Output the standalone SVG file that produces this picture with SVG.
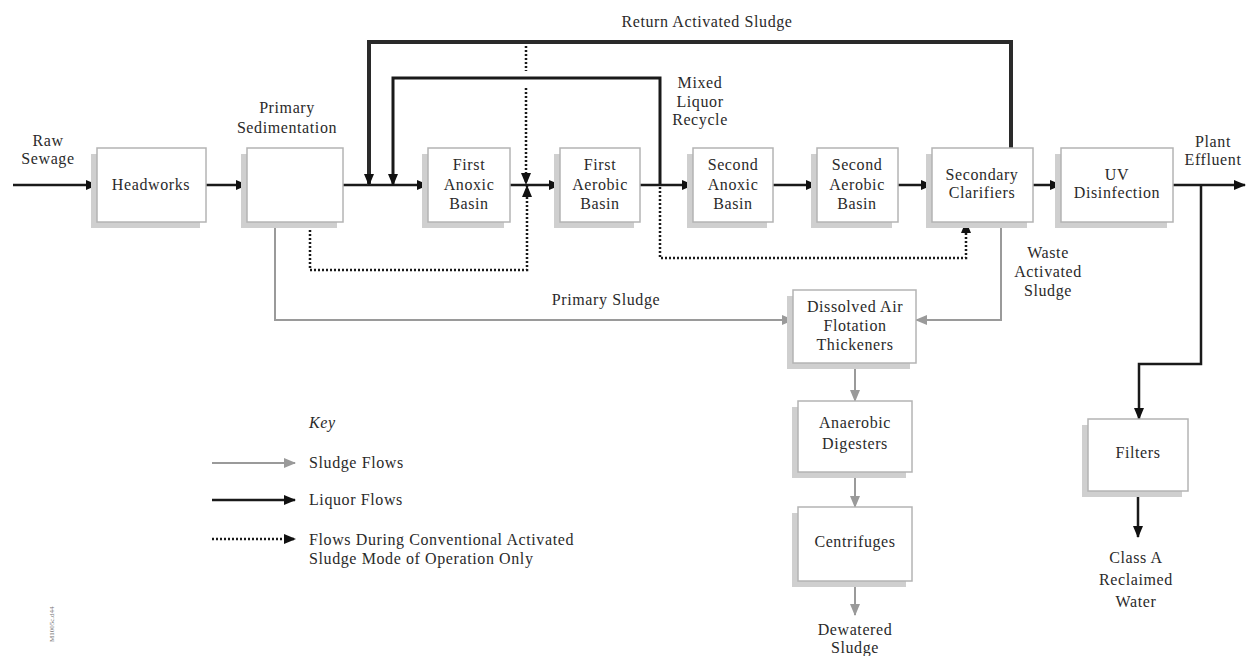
<svg xmlns="http://www.w3.org/2000/svg" width="1247" height="656" viewBox="0 0 1247 656">
<defs>
<style>
.t{font-family:"Liberation Serif","Times New Roman",serif;font-size:16px;fill:#2a2a2a;text-anchor:middle;letter-spacing:0.6px}
.tl{text-anchor:start}
.box{fill:#fff;stroke:#b4b4b4;stroke-width:1.5}
.sh{fill:#cfcfcf}
.liq{fill:none;stroke:#1a1a1a;stroke-width:2.5}
.ras{fill:none;stroke:#2a2a2a;stroke-width:4}
.mlr{fill:none;stroke:#1a1a1a;stroke-width:3}
.dot{fill:none;stroke:#1a1a1a;stroke-width:2.5;stroke-dasharray:2 2}
.sl{fill:none;stroke:#9a9a9a;stroke-width:2}
</style>
<marker id="ab" markerUnits="userSpaceOnUse" markerWidth="12" markerHeight="10" refX="11" refY="5" orient="auto"><path d="M0,0 L12,5 L0,10 z" fill="#111"/></marker>
<marker id="ag" markerUnits="userSpaceOnUse" markerWidth="12" markerHeight="10" refX="11" refY="5" orient="auto"><path d="M0,0 L12,5 L0,10 z" fill="#9a9a9a"/></marker>
</defs>
<rect width="1247" height="656" fill="#fff"/>

<g id="connectors">
<path class="liq" d="M13,185 H97" marker-end="url(#ab)"/>
<path class="liq" d="M206,185 H247" marker-end="url(#ab)"/>
<path class="liq" d="M343,185 H428" marker-end="url(#ab)"/>
<path class="liq" d="M510,185 H560" marker-end="url(#ab)"/>
<path class="liq" d="M640,185 H693" marker-end="url(#ab)"/>
<path class="liq" d="M773,185 H817" marker-end="url(#ab)"/>
<path class="liq" d="M898,185 H932" marker-end="url(#ab)"/>
<path class="liq" d="M1033,185 H1061" marker-end="url(#ab)"/>
<path class="liq" d="M1173,185 H1245" marker-end="url(#ab)"/>
<path class="ras" d="M1011,148 V42 H369 V185" marker-end="url(#ab)"/>
<path class="mlr" d="M660,185 V78 H393 V185" marker-end="url(#ab)"/>
<path class="liq" d="M1201,185 V364 H1139 V419" marker-end="url(#ab)"/>
<path class="liq" d="M1138,491 V537" marker-end="url(#ab)"/>
<path class="dot" d="M526,46 V71"/>
<path class="dot" d="M526,88 V184" marker-end="url(#ab)"/>
<path class="dot" d="M310,222 V270 H527 V186" marker-end="url(#ab)"/>
<path class="dot" d="M660,187 V258 H966 V222" marker-end="url(#ab)"/>
<path class="sl" d="M275,222 V320 H793" marker-end="url(#ag)"/>
<path class="sl" d="M1001,222 V320 H916" marker-end="url(#ag)"/>
<path class="sl" d="M855,363 V401" marker-end="url(#ag)"/>
<path class="sl" d="M855,472 V507" marker-end="url(#ag)"/>
<path class="sl" d="M855,581 V615" marker-end="url(#ag)"/>
</g>

<g id="headworks"><rect class="sh" x="91" y="154" width="109" height="74"/><rect class="box" x="97" y="148" width="109" height="74"/><text class="t" x="151" y="190">Headworks</text></g>
<g id="primary-sedimentation"><rect class="sh" x="241" y="154" width="96" height="74"/><rect class="box" x="247" y="148" width="96" height="74"/></g>
<g id="first-anoxic"><rect class="sh" x="422" y="154" width="82" height="74"/><rect class="box" x="428" y="148" width="82" height="74"/><text class="t" x="469" y="170">First</text><text class="t" x="469" y="190">Anoxic</text><text class="t" x="469" y="209">Basin</text></g>
<g id="first-aerobic"><rect class="sh" x="554" y="154" width="80" height="74"/><rect class="box" x="560" y="148" width="80" height="74"/><text class="t" x="600" y="170">First</text><text class="t" x="600" y="190">Aerobic</text><text class="t" x="600" y="209">Basin</text></g>
<g id="second-anoxic"><rect class="sh" x="687" y="154" width="80" height="74"/><rect class="box" x="693" y="148" width="80" height="74"/><text class="t" x="733" y="170">Second</text><text class="t" x="733" y="190">Anoxic</text><text class="t" x="733" y="209">Basin</text></g>
<g id="second-aerobic"><rect class="sh" x="811" y="154" width="81" height="74"/><rect class="box" x="817" y="148" width="81" height="74"/><text class="t" x="857" y="170">Second</text><text class="t" x="857" y="190">Aerobic</text><text class="t" x="857" y="209">Basin</text></g>
<g id="secondary-clarifiers"><rect class="sh" x="926" y="154" width="101" height="74"/><rect class="box" x="932" y="148" width="101" height="74"/><text class="t" x="982" y="180">Secondary</text><text class="t" x="982" y="198">Clarifiers</text></g>
<g id="uv-disinfection"><rect class="sh" x="1055" y="154" width="112" height="74"/><rect class="box" x="1061" y="148" width="112" height="74"/><text class="t" x="1117" y="180">UV</text><text class="t" x="1117" y="198">Disinfection</text></g>
<g id="daf"><rect class="sh" x="787" y="296" width="123" height="73"/><rect class="box" x="793" y="290" width="123" height="73"/><text class="t" x="855" y="312">Dissolved Air</text><text class="t" x="855" y="331">Flotation</text><text class="t" x="855" y="350">Thickeners</text></g>
<g id="digesters"><rect class="sh" x="792" y="407" width="114" height="71"/><rect class="box" x="798" y="401" width="114" height="71"/><text class="t" x="855" y="428">Anaerobic</text><text class="t" x="855" y="449">Digesters</text></g>
<g id="centrifuges"><rect class="sh" x="792" y="513" width="114" height="74"/><rect class="box" x="798" y="507" width="114" height="74"/><text class="t" x="855" y="547">Centrifuges</text></g>
<g id="filters"><rect class="sh" x="1082" y="425" width="100" height="72"/><rect class="box" x="1088" y="419" width="100" height="72"/><text class="t" x="1138" y="458">Filters</text></g>

<g id="labels">
<text class="t" x="48" y="146">Raw</text><text class="t" x="48" y="164">Sewage</text>
<text class="t" x="287" y="113">Primary</text><text class="t" x="287" y="133">Sedimentation</text>
<text class="t" x="707" y="27">Return Activated Sludge</text>
<text class="t" x="700" y="88">Mixed</text><text class="t" x="700" y="107">Liquor</text><text class="t" x="700" y="125">Recycle</text>
<text class="t" x="1213" y="147">Plant</text><text class="t" x="1213" y="165">Effluent</text>
<text class="t" x="1048" y="258">Waste</text><text class="t" x="1048" y="277">Activated</text><text class="t" x="1048" y="296">Sludge</text>
<text class="t" x="606" y="305">Primary Sludge</text>
<text class="t" x="855" y="635">Dewatered</text><text class="t" x="855" y="653">Sludge</text>
<text class="t" x="1136" y="563">Class A</text><text class="t" x="1136" y="585">Reclaimed</text><text class="t" x="1136" y="607">Water</text>
</g>

<g id="key">
<text class="t tl" x="309" y="428" font-style="italic">Key</text>
<path class="sl" d="M212,463 H295" marker-end="url(#ag)"/>
<path class="liq" d="M212,500 H295" marker-end="url(#ab)"/>
<path class="dot" d="M212,539 H295" marker-end="url(#ab)"/>
<text class="t tl" x="309" y="468">Sludge Flows</text>
<text class="t tl" x="309" y="505">Liquor Flows</text>
<text class="t tl" x="309" y="545">Flows During Conventional Activated</text>
<text class="t tl" x="309" y="564">Sludge Mode of Operation Only</text>
<text x="54" y="642" transform="rotate(-90 54 642)" font-family="Liberation Serif, serif" font-size="7" fill="#777">M1005c.d44</text>
</g>
</svg>
